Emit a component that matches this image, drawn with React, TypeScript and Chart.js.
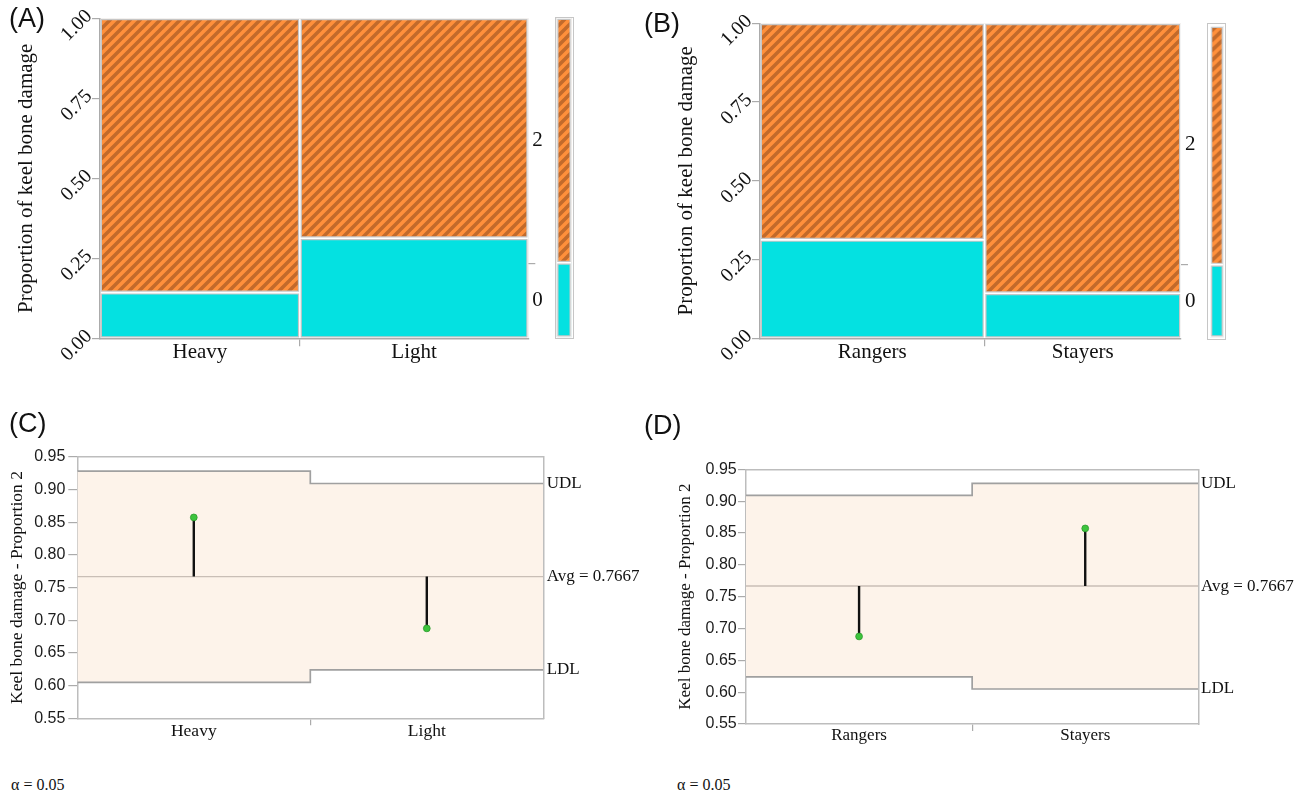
import React, { useEffect, useRef } from 'react';
import { Chart, registerables } from 'chart.js';

Chart.register(...registerables);

// ---------------- data ----------------
const weightGroups = ['Heavy', 'Light'];
const weightDamage0 = [4, 10];
const weightDamage2 = [24, 22];

const rangingGroups = ['Rangers', 'Stayers'];
const rangingDamage0 = [10, 4];
const rangingDamage2 = [22, 24];

const damageLevels = ['0', '2'];
const mosaicTickValues = [0, 0.25, 0.5, 0.75, 1];

const weightUDL = [0.928, 0.909];
const weightLDL = [0.605, 0.624];
const rangingUDL = [0.909, 0.928];
const rangingLDL = [0.624, 0.605];
const controlTickValues = [0.55, 0.6, 0.65, 0.7, 0.75, 0.8, 0.85, 0.9, 0.95];
const limitNames = ['LDL', 'Avg', 'UDL'];

const panelLetters = ['(A)', '(B)', '(C)', '(D)'];
const alphaLabel = 'α = 0.05';
const mosaicYTitle = 'Proportion of keel bone damage';
const controlYTitle = 'Keel bone damage - Proportion 2';

// ---------------- styles ----------------
const SERIF = "'Liberation Serif', 'Times New Roman', serif";
const SANS = "'Liberation Sans', Arial, sans-serif";
const CYAN = '#04E1E1';
const ORANGE_LIGHT = '#FF903B';
const ORANGE_DARK = '#C26A2B';
const CELL_EDGE = '#c6c6c6';
const AXIS_GRAY = '#ababab';
const FRAME_GRAY = '#bdbdbd';
const BAND_FILL = '#FDF3EA';
const LIMIT_GRAY = '#a0a0a0';
const AVG_GRAY = '#c9beb6';
const TEXT = '#111111';
const NONE = 'rgba(0,0,0,0)';

const sum = (a: number[]) => a.reduce((s, v) => s + v, 0);

let patternCache: CanvasPattern | null = null;
function stripePattern(): CanvasPattern | string {
  if (patternCache) return patternCache;
  const s = 10;
  const c = document.createElement('canvas');
  c.width = s;
  c.height = s;
  const g = c.getContext('2d');
  if (!g) return ORANGE_LIGHT;
  g.fillStyle = ORANGE_LIGHT;
  g.fillRect(0, 0, s, s);
  g.strokeStyle = ORANGE_DARK;
  g.lineWidth = 3.5;
  g.beginPath();
  for (const k of [-s, 0, s]) {
    g.moveTo(k - 1, s + 1);
    g.lineTo(k + s + 1, -1);
  }
  g.stroke();
  patternCache = g.createPattern(c, 'repeat');
  return patternCache ?? ORANGE_LIGHT;
}

function fixSize(w?: number, h?: number) {
  return (s: any) => {
    if (w !== undefined) s.width = w;
    if (h !== undefined) s.height = h;
    s.paddingTop = 0;
    s.paddingBottom = 0;
    s.paddingLeft = 0;
    s.paddingRight = 0;
  };
}

function cellDataset(x0: number, x1: number, y0: number, y1: number, color: any) {
  return {
    data: [{ x: x0, y: y1 }, { x: x1, y: y1 }],
    fill: { value: y0 },
    backgroundColor: color,
    borderColor: NONE,
    borderWidth: 0,
    pointRadius: 0,
    order: 3,
  };
}

function rectPath(x0: number, x1: number, y0: number, y1: number) {
  return [
    { x: x0, y: y0 }, { x: x1, y: y0 }, { x: x1, y: y1 }, { x: x0, y: y1 }, { x: x0, y: y0 },
    { x: x0, y: null },
  ];
}

function edgeDatasets(path: any[]) {
  return [
    { data: path, borderColor: CELL_EDGE, borderWidth: 4, fill: false, pointRadius: 0, spanGaps: false, order: 2, borderJoinStyle: 'miter' },
    { data: path, borderColor: '#ffffff', borderWidth: 1.6, fill: false, pointRadius: 0, spanGaps: false, order: 1, borderJoinStyle: 'miter' },
  ];
}

const baseOptions = {
  responsive: true,
  maintainAspectRatio: false,
  animation: false,
  events: [],
};

type MosaicGeom = {
  left: number; top: number; width: number; height: number;
  padTop: number; yAxisW: number; y2W: number; xAxisH: number; titlePad: number;
  marg: { left: number; top: number; width: number; height: number };
};

function mosaicConfig(groups: string[], c0: number[], c2: number[], g: MosaicGeom): any {
  const sizes = groups.map((_, i) => c0[i] + c2[i]);
  const total = sum(sizes);
  const starts: number[] = [];
  sizes.reduce((acc, n) => { starts.push(acc); return acc + n; }, 0);
  const share0 = groups.map((_, i) => c0[i] / sizes[i]);
  const overall0 = sum(c0) / total;
  const pattern = stripePattern();
  const datasets: any[] = [];
  const path: any[] = [];
  groups.forEach((_, i) => {
    const x0 = starts[i];
    const x1 = starts[i] + sizes[i];
    datasets.push(cellDataset(x0, x1, 0, share0[i], CYAN));
    datasets.push(cellDataset(x0, x1, share0[i], 1, pattern));
    path.push(...rectPath(x0, x1, 0, share0[i]), ...rectPath(x0, x1, share0[i], 1));
  });
  datasets.push(...edgeDatasets(path));

  const centers = groups.map((_, i) => starts[i] + sizes[i] / 2);
  const bounds = starts.slice(1);
  const xTicks = [...centers, ...bounds].sort((a, b) => a - b);
  const rightTicks = [overall0 / 2, overall0, (1 + overall0) / 2];

  return {
    type: 'line',
    data: { datasets },
    options: {
      ...baseOptions,
      layout: { padding: { top: g.padTop, left: 0, right: 0, bottom: 0 } },
      plugins: { legend: { display: false }, tooltip: { enabled: false }, filler: { drawTime: 'beforeDatasetsDraw' } },
      scales: {
        x: {
          type: 'linear', min: 0, max: total,
          afterBuildTicks: (s: any) => { s.ticks = xTicks.map((v) => ({ value: v })); },
          afterFit: fixSize(undefined, g.xAxisH),
          ticks: {
            autoSkip: false, maxRotation: 0, minRotation: 0, padding: -6.5, color: TEXT,
            font: { family: SERIF, size: 21 },
            callback: (v: any) => { const i = centers.indexOf(Number(v)); return i >= 0 ? groups[i] : ''; },
          },
          grid: {
            drawOnChartArea: false, tickLength: 8, lineWidth: 1.2,
            color: (ctx: any) => (ctx.tick && bounds.includes(ctx.tick.value) ? AXIS_GRAY : NONE),
          },
          border: { display: true, color: AXIS_GRAY, width: 1.5, z: 1 },
        },
        y: {
          type: 'linear', min: 0, max: 1,
          afterBuildTicks: (s: any) => { s.ticks = mosaicTickValues.map((v) => ({ value: v })); },
          afterFit: fixSize(g.yAxisW),
          ticks: {
            autoSkip: false, minRotation: 45, maxRotation: 45, padding: 3, labelOffset: -5, color: TEXT,
            font: { family: SERIF, size: 20 },
            callback: (v: any) => Number(v).toFixed(2),
          },
          grid: { drawOnChartArea: false, tickLength: 8, lineWidth: 1.2, color: AXIS_GRAY },
          border: { display: true, color: AXIS_GRAY, width: 1.5, z: 1 },
          title: {
            display: true, text: mosaicYTitle, color: TEXT,
            font: { family: SERIF, size: 21 }, padding: { top: g.titlePad, bottom: 0 },
          },
        },
        y2: {
          type: 'linear', position: 'right', min: 0, max: 1,
          afterBuildTicks: (s: any) => { s.ticks = rightTicks.map((v) => ({ value: v })); },
          afterFit: fixSize(g.y2W),
          ticks: {
            autoSkip: false, padding: -3, color: TEXT, font: { family: SERIF, size: 21 },
            callback: (_v: any, i: number) => (i === 0 ? damageLevels[0] : i === 2 ? damageLevels[1] : ''),
          },
          grid: {
            drawOnChartArea: false, tickLength: 7, lineWidth: 1.2,
            color: (ctx: any) => (ctx.index === 1 ? AXIS_GRAY : NONE),
          },
          border: { display: false },
        },
      },
    },
  };
}

function marginConfig(c0: number[], c2: number[]): any {
  const overall0 = sum(c0) / (sum(c0) + sum(c2));
  const pattern = stripePattern();
  const datasets: any[] = [
    cellDataset(0, 1, 0, overall0, CYAN),
    cellDataset(0, 1, overall0, 1, pattern),
    ...edgeDatasets([...rectPath(0, 1, 0, overall0), ...rectPath(0, 1, overall0, 1)]),
  ];
  return {
    type: 'line',
    data: { datasets },
    options: {
      ...baseOptions,
      layout: { padding: { top: 0, left: 0.5, right: 1.5, bottom: 0.8 } },
      plugins: { legend: { display: false }, tooltip: { enabled: false }, filler: { drawTime: 'beforeDatasetsDraw' } },
      scales: {
        x: { type: 'linear', min: 0, max: 1, display: false },
        y: { type: 'linear', min: 0, max: 1, display: false },
      },
    },
  };
}

type ControlGeom = {
  left: number; top: number; width: number; height: number;
  padTop: number; yAxisW: number; y2W: number; xAxisH: number; titlePad: number;
  xLabelPad: number; yTickLen: number; yTickPad: number; y2Pad: number;
  xFont: number; titleFont: number; rightFont: number;
};

function controlConfig(groups: string[], c0: number[], c2: number[], udl: number[], ldl: number[], g: ControlGeom): any {
  const sizes = groups.map((_, i) => c0[i] + c2[i]);
  const share2 = groups.map((_, i) => c2[i] / sizes[i]);
  const avg = sum(c2) / sum(sizes);
  const k = groups.length;
  const stepLine = (vals: number[]) => vals.flatMap((v, i) => [{ x: i, y: v }, { x: i + 1, y: v }]);
  const centers = groups.map((_, i) => i + 0.5);
  const bounds = groups.slice(1).map((_, i) => i + 1);
  const xTicks = [...centers, ...bounds].sort((a, b) => a - b);
  const rightTicks = [ldl[k - 1], avg, udl[k - 1]];
  const rightLabels = [limitNames[0], `${limitNames[1]} = ${avg.toFixed(4)}`, limitNames[2]];

  const datasets: any[] = [
    { data: stepLine(udl), borderColor: LIMIT_GRAY, borderWidth: 1.7, fill: '+1', backgroundColor: BAND_FILL, pointRadius: 0, order: 3 },
    { data: stepLine(ldl), borderColor: LIMIT_GRAY, borderWidth: 1.7, fill: false, pointRadius: 0, order: 3 },
    { data: [{ x: 0, y: avg }, { x: k, y: avg }], borderColor: AVG_GRAY, borderWidth: 1.4, fill: false, pointRadius: 0, order: 2 },
    ...groups.map((_, i) => ({
      data: [{ x: centers[i], y: avg }, { x: centers[i], y: share2[i] }],
      borderColor: '#111111', borderWidth: 2.4, fill: false, pointRadius: 0, order: 1,
    })),
    {
      data: centers.map((x, i) => ({ x, y: share2[i] })), showLine: false, fill: false,
      pointRadius: 3.4, pointBackgroundColor: '#3DC43D', pointBorderColor: '#2E9A2E', pointBorderWidth: 0.8, order: 0,
    },
  ];

  return {
    type: 'line',
    data: { datasets },
    options: {
      ...baseOptions,
      layout: { padding: { top: g.padTop, left: 0, right: 0, bottom: 0 } },
      plugins: { legend: { display: false }, tooltip: { enabled: false }, filler: { drawTime: 'beforeDatasetsDraw' } },
      scales: {
        x: {
          type: 'linear', min: 0, max: k,
          afterBuildTicks: (s: any) => { s.ticks = xTicks.map((v) => ({ value: v })); },
          afterFit: fixSize(undefined, g.xAxisH),
          ticks: {
            autoSkip: false, maxRotation: 0, minRotation: 0, padding: g.xLabelPad, color: TEXT,
            font: { family: SERIF, size: g.xFont },
            callback: (v: any) => { const i = centers.indexOf(Number(v)); return i >= 0 ? groups[i] : ''; },
          },
          grid: {
            drawOnChartArea: false, tickLength: 7, lineWidth: 1.2,
            color: (ctx: any) => (ctx.tick && bounds.includes(ctx.tick.value) ? AXIS_GRAY : NONE),
          },
          border: { display: true, color: FRAME_GRAY, width: 1.5 },
        },
        xTop: {
          type: 'linear', position: 'top', min: 0, max: k,
          afterFit: fixSize(undefined, 0),
          ticks: { display: false },
          grid: { display: false, drawTicks: false, drawOnChartArea: false },
          border: { display: true, color: FRAME_GRAY, width: 1.5 },
        },
        y: {
          type: 'linear', min: controlTickValues[0], max: controlTickValues[controlTickValues.length - 1],
          afterBuildTicks: (s: any) => { s.ticks = controlTickValues.map((v) => ({ value: v })); },
          afterFit: fixSize(g.yAxisW),
          ticks: {
            autoSkip: false, padding: g.yTickPad, color: '#1c1c1c',
            font: { family: SANS, size: 16 },
            callback: (v: any) => Number(v).toFixed(2),
          },
          grid: { drawOnChartArea: false, tickLength: g.yTickLen, lineWidth: 1.2, color: AXIS_GRAY },
          border: { display: true, color: FRAME_GRAY, width: 1.5 },
          title: {
            display: true, text: controlYTitle, color: TEXT,
            font: { family: SERIF, size: g.titleFont }, padding: { top: g.titlePad, bottom: 0 },
          },
        },
        y2: {
          type: 'linear', position: 'right',
          min: controlTickValues[0], max: controlTickValues[controlTickValues.length - 1],
          afterBuildTicks: (s: any) => { s.ticks = rightTicks.map((v) => ({ value: v })); },
          afterFit: fixSize(g.y2W),
          ticks: {
            autoSkip: false, padding: g.y2Pad, color: TEXT, font: { family: SERIF, size: g.rightFont },
            callback: (_v: any, i: number) => rightLabels[i],
          },
          grid: { display: false, drawTicks: false, drawOnChartArea: false },
          border: { display: true, color: FRAME_GRAY, width: 1.5 },
        },
      },
    },
  };
}

// ---------------- components ----------------
function ChartBox(props: { box: { left: number; top: number; width: number; height: number }; make: () => any; frame?: boolean }) {
  const ref = useRef<HTMLCanvasElement | null>(null);
  useEffect(() => {
    if (!ref.current) return;
    const chart = new Chart(ref.current, props.make());
    return () => chart.destroy();
  }, []);
  const { left, top, width, height } = props.box;
  return (
    <div
      style={{
        position: 'absolute', left, top, width, height, boxSizing: 'border-box',
        border: props.frame ? `1.5px solid ${CELL_EDGE}` : 'none',
      }}
    >
      <div style={{ position: 'relative', width: '100%', height: '100%' }}>
        <canvas ref={ref} />
      </div>
    </div>
  );
}

const geomA: MosaicGeom = {
  left: 0, top: 0, width: 550, height: 380, padTop: 18.3, yAxisW: 100, y2W: 21.7, xAxisH: 41.7, titlePad: 13.7,
  marg: { left: 555.3, top: 17.3, width: 19, height: 322 },
};
const geomB: MosaicGeom = {
  left: 640, top: 0, width: 565, height: 380, padTop: 23.3, yAxisW: 120, y2W: 24, xAxisH: 41.7, titlePad: 33.7,
  marg: { left: 1207.3, top: 22.7, width: 18.7, height: 317.3 },
};
const geomC: ControlGeom = {
  left: 0, top: 430, width: 650, height: 330, padTop: 26.7, yAxisW: 77.3, y2W: 106.7, xAxisH: 41.7, titlePad: 6.7,
  xLabelPad: -4.4, yTickLen: 9, yTickPad: 3, y2Pad: 3.4, xFont: 17.5, titleFont: 17.5, rightFont: 17,
};
const geomD: ControlGeom = {
  left: 650, top: 430, width: 654, height: 330, padTop: 39.3, yAxisW: 96, y2W: 105.7, xAxisH: 36, titlePad: 25.5,
  xLabelPad: -5.5, yTickLen: 8, yTickPad: 1.3, y2Pad: 2.7, xFont: 17, titleFont: 17, rightFont: 17,
};

const letterPos = [
  { left: 9, top: 5 },
  { left: 644, top: 10 },
  { left: 9, top: 410 },
  { left: 644, top: 412 },
];
const alphaPos = [
  { left: 11, top: 777 },
  { left: 677, top: 777 },
];

export default function App() {
  return (
    <div style={{ position: 'absolute', left: 0, top: 0, width: 1304, height: 794, overflow: 'hidden', background: '#ffffff' }}>
      <ChartBox box={geomA} make={() => mosaicConfig(weightGroups, weightDamage0, weightDamage2, geomA)} />
      <ChartBox box={geomA.marg} frame make={() => marginConfig(weightDamage0, weightDamage2)} />
      <ChartBox box={geomB} make={() => mosaicConfig(rangingGroups, rangingDamage0, rangingDamage2, geomB)} />
      <ChartBox box={geomB.marg} frame make={() => marginConfig(rangingDamage0, rangingDamage2)} />
      <ChartBox box={geomC} make={() => controlConfig(weightGroups, weightDamage0, weightDamage2, weightUDL, weightLDL, geomC)} />
      <ChartBox box={geomD} make={() => controlConfig(rangingGroups, rangingDamage0, rangingDamage2, rangingUDL, rangingLDL, geomD)} />
      {panelLetters.map((t, i) => (
        <div key={t} style={{ position: 'absolute', ...letterPos[i], fontFamily: SANS, fontSize: 27, lineHeight: 1, color: TEXT, whiteSpace: 'nowrap' }}>
          {t}
        </div>
      ))}
      {alphaPos.map((p, i) => (
        <div key={i} style={{ position: 'absolute', ...p, fontFamily: SERIF, fontSize: 16, lineHeight: 1, color: TEXT, whiteSpace: 'nowrap' }}>
          {alphaLabel}
        </div>
      ))}
    </div>
  );
}
